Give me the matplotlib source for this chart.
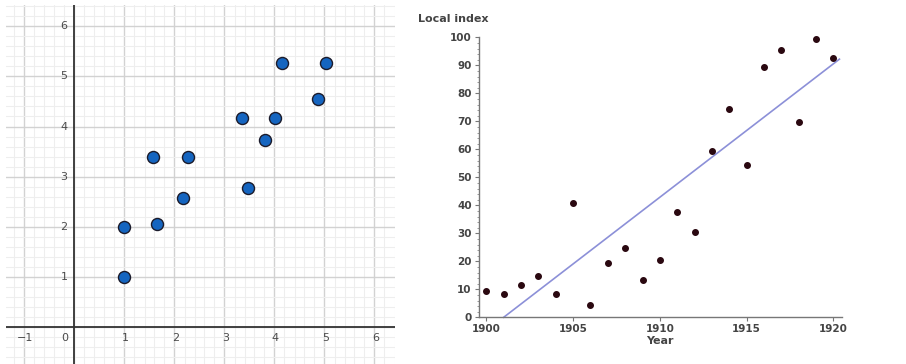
import numpy as np
import matplotlib
matplotlib.use("Agg")
import matplotlib.pyplot as plt
from matplotlib.ticker import MultipleLocator

# ---------------- data ----------------
# left panel (graph-paper scatter)
left_x = [1.0, 1.0, 1.66, 1.57, 2.28, 2.17, 3.36, 3.48, 3.81, 4.01, 4.16, 5.04, 4.87]
left_y = [1.0, 2.0, 2.05, 3.40, 3.39, 2.58, 4.16, 2.77, 3.74, 4.17, 5.26, 5.26, 4.54]
left_xticks = [-1, 1, 2, 3, 4, 5, 6]
left_yticks = [1, 2, 3, 4, 5, 6]

# right panel (local index by year)
years = list(range(1900, 1921))
index_values = [9.5, 8.3, 11.5, 14.9, 8.2, 40.7, 4.4, 19.4, 24.6, 13.5, 20.4,
                37.7, 30.5, 59.5, 74.4, 54.4, 89.3, 95.4, 69.6, 99.5, 92.5]
trend_years = [1901.0, 1920.35]
trend_values = [0.0, 92.2]
right_xticks = [1900, 1905, 1910, 1915, 1920]
right_yticks = [0, 10, 20, 30, 40, 50, 60, 70, 80, 90, 100]

W, H = 906, 364
fig = plt.figure(figsize=(W / 100, H / 100), dpi=100)
fig.patch.set_facecolor("white")

# ---------------- left panel ----------------
axL = fig.add_axes([6 / W, 0, (395 - 6) / W, 359 / H])
axL.set_xlim(-1.37, 6.41)
axL.set_ylim(-0.73, 6.42)
for s in axL.spines.values():
    s.set_visible(False)
axL.xaxis.set_major_locator(MultipleLocator(1))
axL.yaxis.set_major_locator(MultipleLocator(1))
axL.xaxis.set_minor_locator(MultipleLocator(0.2))
axL.yaxis.set_minor_locator(MultipleLocator(0.2))
axL.grid(which="minor", color="#eeeeee", linewidth=0.8)
axL.grid(which="major", color="#d2d2d2", linewidth=1.0)
axL.tick_params(which="both", length=0, labelbottom=False, labelleft=False)
axL.set_axisbelow(True)
axL.axhline(0, color="#333333", linewidth=1.3, zorder=2)
axL.axvline(0, color="#333333", linewidth=1.3, zorder=2)

for t in left_xticks:
    lab = "\u22121" if t < 0 else str(t)
    axL.annotate(lab, xy=(t, 0), xytext=(1, -11), textcoords="offset pixels",
                 ha="center", va="center", fontsize=8, color="#4a4a4a")
axL.annotate("0", xy=(0, 0), xytext=(-10, -11), textcoords="offset pixels",
             ha="center", va="center", fontsize=8, color="#4a4a4a")
for t in left_yticks:
    axL.annotate(str(t), xy=(0, t), xytext=(-7, 0), textcoords="offset pixels",
                 ha="right", va="center", fontsize=8, color="#4a4a4a")

axL.scatter(left_x, left_y, s=75, color="#1565c0", edgecolors="#1b1b2b",
            linewidths=1.0, zorder=5)

# ---------------- right panel ----------------
ax = fig.add_axes([478.7 / W, (H - 317.3) / H, 363 / W, 280 / H])
ax.set_facecolor("white")
ax.set_xlim(1899.56, 1920.48)
ax.set_ylim(0, 100)
ax.spines["top"].set_visible(False)
ax.spines["right"].set_visible(False)
for s in ("left", "bottom"):
    ax.spines[s].set_color("#777777")
    ax.spines[s].set_linewidth(1.0)
ax.set_xticks(right_xticks)
ax.set_yticks(right_yticks)
ax.yaxis.set_minor_locator(MultipleLocator(2))
ax.tick_params(axis="both", which="major", length=3, width=0.8, color="#777777",
               labelsize=7.5, labelcolor="#444444", pad=2)
ax.tick_params(axis="y", which="minor", length=1.5, width=0.6, color="#888888")
for lab in ax.get_xticklabels() + ax.get_yticklabels():
    lab.set_fontweight("bold")

ax.plot(trend_years, trend_values, color="#8c90d8", linewidth=1.2, zorder=2,
        clip_on=False)
ax.scatter(years, index_values, s=16, color="#2a0810", zorder=3, clip_on=False)

fig.text(418 / W, 1 - 19 / H, "Local index", fontsize=8, fontweight="bold",
         color="#444444", ha="left", va="center")
ax.set_xlabel("Year", fontsize=8, fontweight="bold", color="#444444", labelpad=1)

fig.savefig("out.png", dpi=100)
